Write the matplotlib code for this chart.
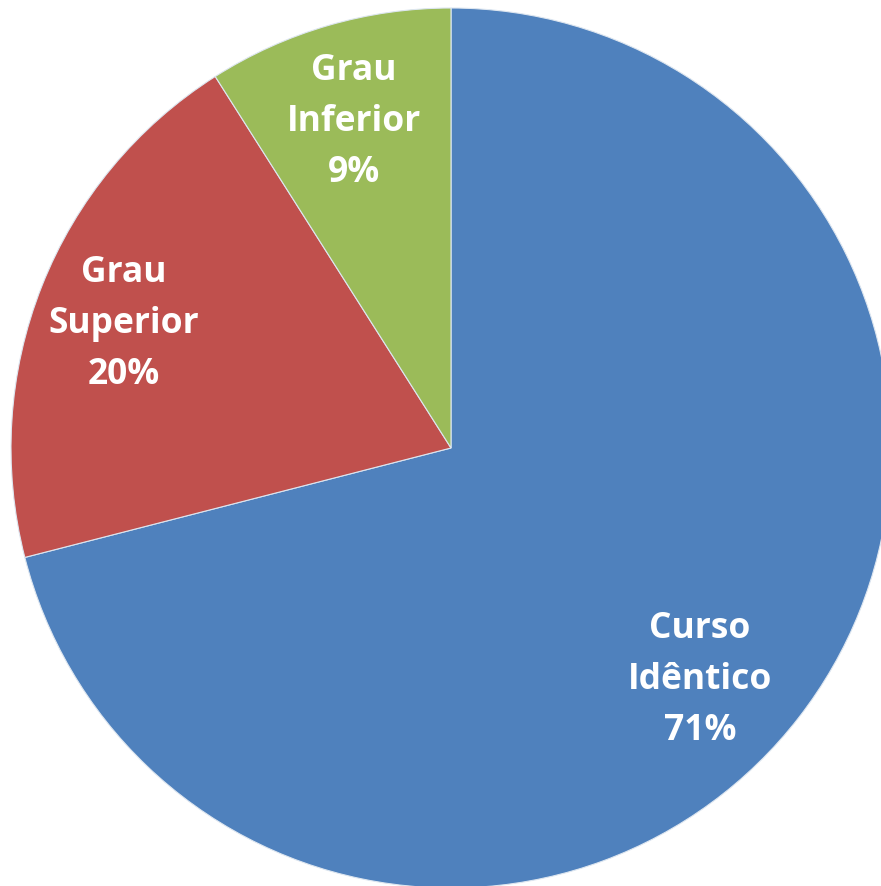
import matplotlib
matplotlib.use('Agg')
import matplotlib.pyplot as plt

categories = ['Curso\nIdêntico', 'Grau\nSuperior', 'Grau\nInferior']
shares = [71, 20, 9]
colors = ['#4F81BD', '#C0504D', '#9BBB59']

W, H = 881, 886
cx, cy, r = 451, H - 448, 440

fig = plt.figure(figsize=(W / 100, H / 100), dpi=100)
ax = fig.add_axes([0, 0, 1, 1])

labels = ['{}\n{}%'.format(c, v) for c, v in zip(categories, shares)]
wedges, texts = ax.pie(shares, labels=labels, colors=colors, startangle=90,
                       counterclock=False, center=(cx, cy), radius=r,
                       labeldistance=0.78,
                       wedgeprops=dict(edgecolor='#dde6f0', linewidth=0.8),
                       textprops=dict(color='white', fontsize=25.5, fontweight='bold',
                                      family='Open Sans', linespacing=1.55))
for t in texts:
    t.set_ha('center')
    t.set_va('center')
# Excel puts the big slice label a bit lower than the mid-angle
texts[0].set_position((cx + 249, cy - 232))
texts[2].set_position((cx - 97, cy + 326))
texts[1].set_position((cx - 327, cy + 124))

ax.set_xlim(0, W)
ax.set_ylim(0, H)
ax.set_aspect('equal')
ax.axis('off')

plt.savefig('out.png', dpi=100)
